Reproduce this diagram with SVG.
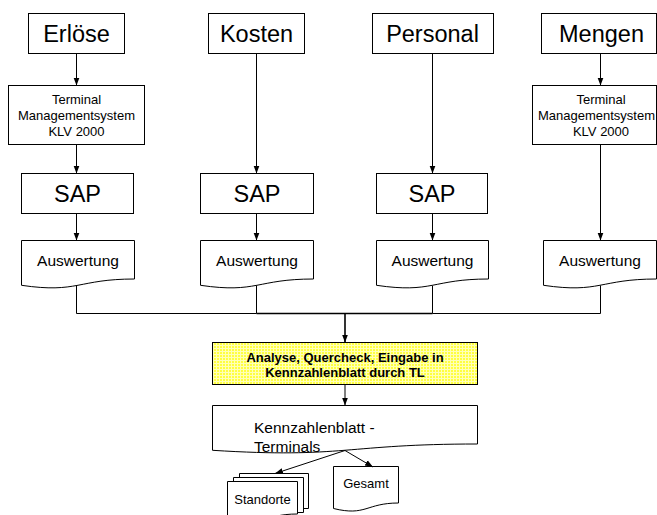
<svg xmlns="http://www.w3.org/2000/svg" width="657" height="515" viewBox="0 0 657 515">
  <defs>
    <marker id="arr" markerUnits="userSpaceOnUse" markerWidth="8" markerHeight="8" viewBox="0 0 8 8" refX="8" refY="4" orient="auto">
      <path d="M0,1 L8,4 L0,7 Z" fill="#000"/>
    </marker>
    <pattern id="yel" patternUnits="userSpaceOnUse" width="3" height="3">
      <rect width="3" height="3" fill="#FFFF40"/>
      <rect x="0" y="0" width="3" height="1" fill="#FFFFB8"/>
      <rect x="0" y="0" width="1" height="3" fill="#FFFFB8"/>
    </pattern>
  </defs>
  <style>
    .box { fill: #fff; stroke: #000; stroke-width: 1; }
    .big { font-family: "Liberation Sans", Arial, sans-serif; font-size: 23.5px; text-anchor: middle; fill: #000; }
    .small { font-family: "Liberation Sans", Arial, sans-serif; font-size: 13px; text-anchor: middle; fill: #000; }
    .mid { font-family: "Liberation Sans", Arial, sans-serif; font-size: 15.5px; text-anchor: middle; fill: #000; }
    .bold { font-family: "Liberation Sans", Arial, sans-serif; font-size: 13px; font-weight: bold; text-anchor: middle; fill: #000; }
    .con { fill: none; stroke: #000; stroke-width: 1; }
    .trunk { fill: none; stroke: #000; stroke-width: 1.6; }
  </style>

  <rect width="657" height="515" fill="#fff"/>

  <g id="erloese">
    <rect class="box" x="28.5" y="13.5" width="96" height="40"/>
    <text class="big" x="76.5" y="42">Erlöse</text>
  </g>
  <g id="kosten">
    <rect class="box" x="208.5" y="13.5" width="96" height="40"/>
    <text class="big" x="256.5" y="42">Kosten</text>
  </g>
  <g id="personal">
    <rect class="box" x="372.5" y="13.5" width="121" height="40"/>
    <text class="big" x="432.5" y="42">Personal</text>
  </g>
  <g id="mengen">
    <rect class="box" x="541.5" y="13.5" width="115" height="40"/>
    <text class="big" x="601.5" y="42">Mengen</text>
  </g>

  <g id="tms1">
    <rect class="box" x="8.5" y="85.5" width="136" height="59"/>
    <text class="small" x="76.5" y="103.5">Terminal</text>
    <text class="small" x="76.5" y="119.5">Managementsystem</text>
    <text class="small" x="76.5" y="135.5">KLV 2000</text>
  </g>
  <g id="tms2">
    <rect class="box" x="532.5" y="85.5" width="124" height="59"/>
    <text class="small" x="601" y="103.5">Terminal</text>
    <text class="small" x="596.5" y="119.5">Managementsystem</text>
    <text class="small" x="601" y="135.5">KLV 2000</text>
  </g>

  <g id="sap1">
    <rect class="box" x="21.5" y="173.5" width="112" height="40"/>
    <text class="big" x="77.5" y="202">SAP</text>
  </g>
  <g id="sap2">
    <rect class="box" x="200.5" y="173.5" width="113" height="40"/>
    <text class="big" x="257" y="202">SAP</text>
  </g>
  <g id="sap3">
    <rect class="box" x="376.5" y="173.5" width="111" height="40"/>
    <text class="big" x="432" y="202">SAP</text>
  </g>

  <g id="auswertung1">
    <path class="box" d="M21.5,240.5 H134.5 V279 C78,279 78,293.6 21.5,285.3 Z"/>
    <text class="mid" x="78" y="265.5">Auswertung</text>
  </g>
  <g id="auswertung2">
    <path class="box" d="M200.5,240.5 H313.5 V279 C257,279 257,293.6 200.5,285.3 Z"/>
    <text class="mid" x="257" y="265.5">Auswertung</text>
  </g>
  <g id="auswertung3">
    <path class="box" d="M376.5,240.5 H488.5 V279 C432.5,279 432.5,293.6 376.5,285.3 Z"/>
    <text class="mid" x="432.5" y="265.5">Auswertung</text>
  </g>
  <g id="auswertung4">
    <path class="box" d="M543.5,240.5 H656.5 V279 C600,279 600,293.6 543.5,285.3 Z"/>
    <text class="mid" x="600" y="265.5">Auswertung</text>
  </g>

  <g id="analyse">
    <rect x="212.5" y="342.5" width="265" height="42" fill="url(#yel)" stroke="#000" stroke-width="1"/>
    <text class="bold" x="345" y="362">Analyse, Quercheck, Eingabe in</text>
    <text class="bold" x="345" y="377">Kennzahlenblatt durch TL</text>
  </g>

  <g id="kennzahlenblatt">
    <path class="box" d="M212.5,405.5 H477.5 V444 C345,444 345,458.6 212.5,450.3 Z"/>
    <text class="mid" x="254" y="433" style="text-anchor:start">Kennzahlenblatt -</text>
    <text class="mid" x="254" y="452" style="text-anchor:start">Terminals</text>
  </g>

  <g id="standorte">
    <path class="box" d="M239.5,477 V473.5 H308.5 V508.5 H303"/>
    <path class="box" d="M233.5,481 V477.5 H303.5 V512.5 H297"/>
    <path class="box" d="M227.5,481.5 H297.5 V514 C262.5,514 262.5,528 227.5,520 Z"/>
    <text class="small" x="262.5" y="504">Standorte</text>
  </g>

  <g id="gesamt">
    <path class="box" d="M333.5,466.5 H398.5 V503 C366,503 366,516.5 333.5,508.5 Z"/>
    <text class="small" x="366" y="488">Gesamt</text>
  </g>

  <g id="connectors">
    <line class="con" x1="76.5" y1="53.5" x2="76.5" y2="85.5" marker-end="url(#arr)"/>
    <line class="con" x1="76.5" y1="144.5" x2="76.5" y2="173.5" marker-end="url(#arr)"/>
    <line class="con" x1="76.5" y1="213.5" x2="76.5" y2="240.5" marker-end="url(#arr)"/>
    <line class="con" x1="256.5" y1="53.5" x2="256.5" y2="173.5" marker-end="url(#arr)"/>
    <line class="con" x1="256.5" y1="213.5" x2="256.5" y2="240.5" marker-end="url(#arr)"/>
    <line class="con" x1="432.5" y1="53.5" x2="432.5" y2="173.5" marker-end="url(#arr)"/>
    <line class="con" x1="432.5" y1="213.5" x2="432.5" y2="240.5" marker-end="url(#arr)"/>
    <line class="con" x1="600.5" y1="53.5" x2="600.5" y2="85.5" marker-end="url(#arr)"/>
    <line class="con" x1="600.5" y1="144.5" x2="600.5" y2="240.5" marker-end="url(#arr)"/>

    <polyline class="con" points="76.5,285.5 76.5,313.5 256.5,313.5"/>
    <polyline class="con" points="600.5,285.5 600.5,313.5 432.5,313.5"/>
    <line class="con" x1="256.5" y1="285.5" x2="256.5" y2="313.5"/>
    <line class="con" x1="432.5" y1="285.5" x2="432.5" y2="313.5"/>
    <line class="trunk" x1="256.5" y1="313.5" x2="432.5" y2="313.5"/>
    <line class="trunk" x1="345" y1="313.5" x2="345" y2="342.5" marker-end="url(#arr)"/>

    <line class="con" x1="345" y1="384.5" x2="345" y2="405.5" marker-end="url(#arr)"/>
    <line class="con" x1="345" y1="450.5" x2="275" y2="473.5" marker-end="url(#arr)"/>
    <line class="con" x1="345" y1="450.5" x2="373" y2="467" marker-end="url(#arr)"/>
  </g>
</svg>
